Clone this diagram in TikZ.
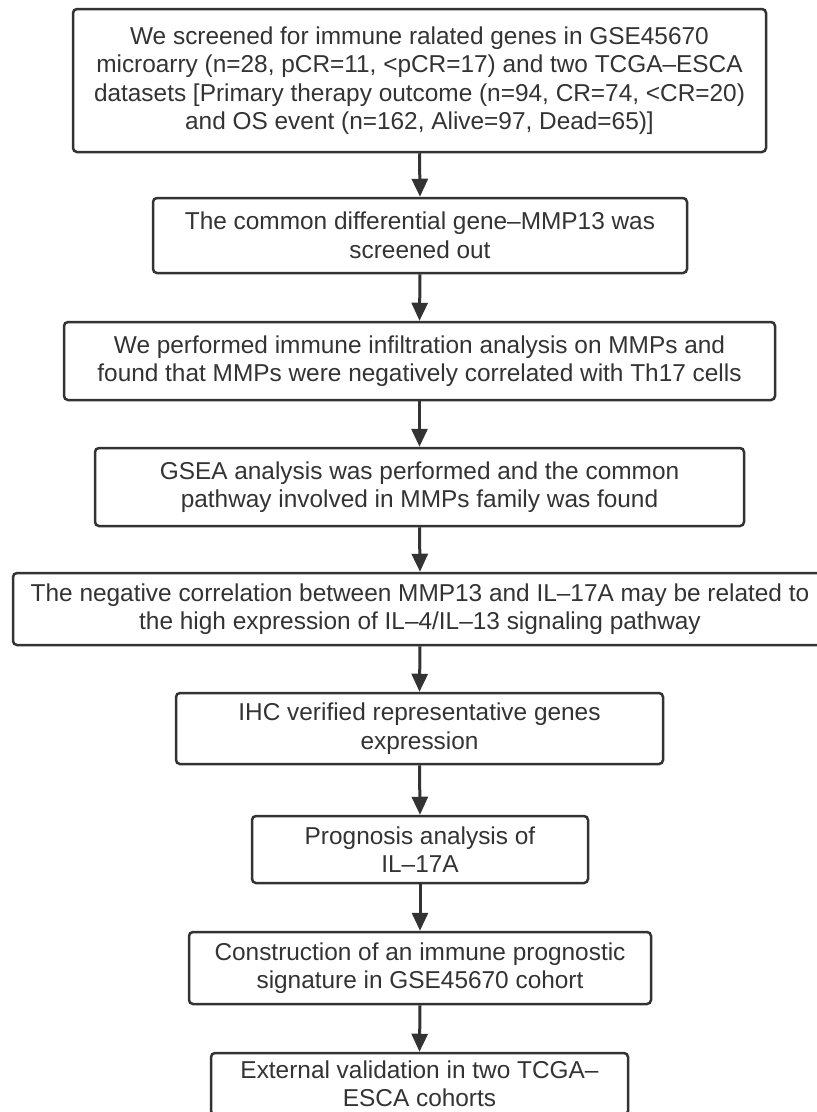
\documentclass[tikz,border=0pt]{standalone}
\usepackage{fontspec}
\setmainfont{Liberation Sans}
\usetikzlibrary{arrows.meta}
\definecolor{ink}{HTML}{333333}
\tikzset{
  box/.style={draw=ink, line width=2.5pt, rounded corners=4pt, align=center,
    text=ink, font=\fontsize{24.4}{28.5}\selectfont, inner sep=0pt, fill=white},
  flow/.style={draw=ink, line width=3pt, -{Triangle[length=18pt,width=16pt]}}
}
\begin{document}
\begin{tikzpicture}[x=1pt,y=-1pt]
\useasboundingbox (0,0) rectangle (817,1112);
\clip (0,0) rectangle (817,1112);
\fill[white] (0,0) rectangle (817,1112);
\node[box, minimum width=693pt, minimum height=143pt] (b1) at (419.5,80.5)
  {We screened for immune ralated genes in GSE45670\\
   microarry (n=28, pCR=11, <pCR=17) and two TCGA–ESCA\\
   datasets [Primary therapy outcome (n=94, CR=74, <CR=20)\\
   and OS event (n=162, Alive=97, Dead=65)]};
\node[box, minimum width=534pt, minimum height=75pt] (b2) at (420,235.5)
  {The common differential gene–MMP13 was\\ screened out};
\node[box, minimum width=711pt, minimum height=78pt] (b3) at (419.5,361)
  {We performed immune infiltration analysis on MMPs and\\
   found that MMPs were negatively correlated with Th17 cells};
\node[box, minimum width=649pt, minimum height=78pt] (b4) at (419.5,487)
  {GSEA analysis was performed and the common\\
   pathway involved in MMPs family was found};
\node[box, minimum width=814pt, minimum height=72pt] (b5) at (420,609)
  {The negative correlation between MMP13 and IL–17A may be related to\\
   the high expression of IL–4/IL–13 signaling pathway};
\node[box, minimum width=487pt, minimum height=71pt] (b6) at (419.5,728.5)
  {IHC verified representative genes\\ expression};
\node[box, minimum width=336pt, minimum height=67pt] (b7) at (420,849.5)
  {Prognosis analysis of\\ IL–17A};
\node[box, minimum width=462pt, minimum height=72pt] (b8) at (420,968)
  {Construction of an immune prognostic\\ signature in GSE45670 cohort};
\node[box, minimum width=417pt, minimum height=62pt] (b9) at (419.5,1084)
  {External validation in two TCGA–\\ ESCA cohorts};
\foreach \a/\b in {b1/b2,b2/b3,b3/b4,b4/b5,b5/b6,b6/b7,b7/b8,b8/b9}
  \draw[flow] (\a.south) -- (\b.north);
\end{tikzpicture}
\end{document}
